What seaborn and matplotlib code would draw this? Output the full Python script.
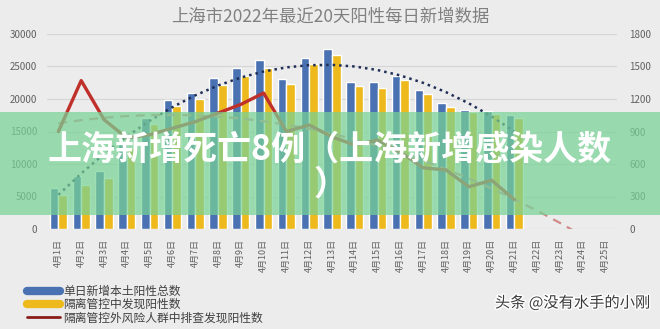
import numpy as np
import pandas as pd
import matplotlib.pyplot as plt
import seaborn as sns
from matplotlib.lines import Line2D
from matplotlib.patches import Rectangle
from matplotlib import patheffects

# 4月1日 - 4月25日, data only up to 4月21日
dates = [f"4月{d}日" for d in range(1, 26)]
total = [6300, 8100, 8850, 13350, 17000, 19850, 21000, 23200, 24700, 26000, 23050,
         26250, 27650, 22650, 22550, 23550, 21400, 19350, 18300, 18100, 17500]
quarantined = [5300, 6750, 7800, 12500, 16100, 18900, 19950, 22150, 23600, 24750, 22250,
               25450, 26800, 22050, 21650, 22900, 20800, 18800, 18000, 17650, 17150]
outside = [900, 1370, 1010, 840, 870, 930, 990, 1070, 1150, 1255, 900,
           960, 850, 775, 820, 710, 565, 545, 390, 450, 270]

labels = ["单日新增本土阳性总数", "隔离管控中发现阳性数", "隔离管控外风险人群中排查发现阳性数"]
left_ticks = [0, 5000, 10000, 15000, 20000, 25000, 30000]
right_ticks = [0, 300, 600, 900, 1200, 1500, 1800]

BLUE = "#4a72b2"
GOLD = "#edb91c"
RED = "#c0302a"
BG = "#ececec"

sns.set_style("white")
plt.rcParams['font.family'] = ['Noto Sans CJK SC', 'DejaVu Sans']

n = len(total)
df = pd.DataFrame({
    "date": dates[:n] * 2,
    "value": total + quarantined,
    "series": [labels[0]] * n + [labels[1]] * n,
})

fig = plt.figure(figsize=(6.6, 3.29), dpi=100)
fig.patch.set_facecolor(BG)
ax = fig.add_axes([47 / 660, 1 - 229 / 329, 570 / 660, 195 / 329])
ax.set_facecolor(BG)

sns.barplot(data=df, x="date", y="value", hue="series", order=dates,
            palette=[BLUE, GOLD], width=0.75, gap=0, ax=ax, legend=False,
            saturation=1, zorder=2)
ax.set_ylim(0, 30000)
ax.set_xlim(-0.5, len(dates) - 0.5)
ax.set_yticks(left_ticks)
ax.yaxis.grid(True, color="#d6d6d6", lw=0.9, zorder=0)
ax.set_axisbelow(True)
ax.set_xlabel("")
ax.set_ylabel("")
ax.tick_params(axis="y", length=0, pad=7, labelsize=7, labelcolor="#606060")
ax.tick_params(axis="x", length=0, pad=7, labelsize=6.5, labelcolor="#606060")
ax.set_xticks(range(len(dates)))
ax.set_xticklabels(dates, rotation=90, va="top")
for s in ax.spines.values():
    s.set_visible(False)

# dotted trend for total
x = np.arange(n)
p1 = np.polyfit(x, total, 2)
ax.plot(x, np.polyval(p1, x), ls=(0, (1, 1.6)), color="#1f2f55", lw=1.8, zorder=4)

ax2 = ax.twinx()
ax2.set_ylim(0, 1800)
ax2.set_yticks(right_ticks)
ax2.tick_params(axis="y", length=0, pad=9, labelsize=7, labelcolor="#606060")
for s in ax2.spines.values():
    s.set_visible(False)
sns.lineplot(x=x, y=outside, ax=ax2, color=RED, lw=2.4, zorder=5)
p2 = np.polyfit(x, outside, 2)
xf = np.arange(n + 3)
ax2.plot(xf, np.polyval(p2, xf), ls=(0, (4, 3)), color="#d08a8a", lw=1.6, zorder=4)
ax2.set_xlim(-0.5, len(dates) - 0.5)

fig.text(0.5, 1 - 17 / 329, "上海市2022年最近20天阳性每日新增数据", ha="center", va="center",
         fontsize=12.5, color="#808080")

handles = [Line2D([], [], color=BLUE, lw=6),
           Line2D([], [], color=GOLD, lw=6),
           Line2D([], [], color="#8b1c1c", lw=2)]
fig.legend(handles, labels, loc="upper left", bbox_to_anchor=(22 / 660, 1 - 280 / 329),
           frameon=False, fontsize=8.5, handlelength=2.8, handletextpad=0.3,
           labelspacing=0.02, borderaxespad=0, labelcolor="#404040")

fig.text(650 / 660, 1 - 303 / 329, "头条 @没有水手的小刚", ha="right", va="center",
         fontsize=11, color="#3a3a3a",
         path_effects=[patheffects.withStroke(linewidth=2, foreground="white")])

# overlay banner
fig.patches.append(Rectangle((0, 1 - 215 / 329), 1, 103 / 329, transform=fig.transFigure,
                             facecolor="#78d296", alpha=0.72, edgecolor="none", zorder=10))
fig.text(0.5, 1 - 167 / 329, "上海新增死亡8例（上海新增感染人数\n）", ha="center", va="center",
         fontsize=24.5, fontweight="heavy", color="white", linespacing=1.0, zorder=11)

fig.savefig("out.png", dpi=100, facecolor=fig.get_facecolor())
